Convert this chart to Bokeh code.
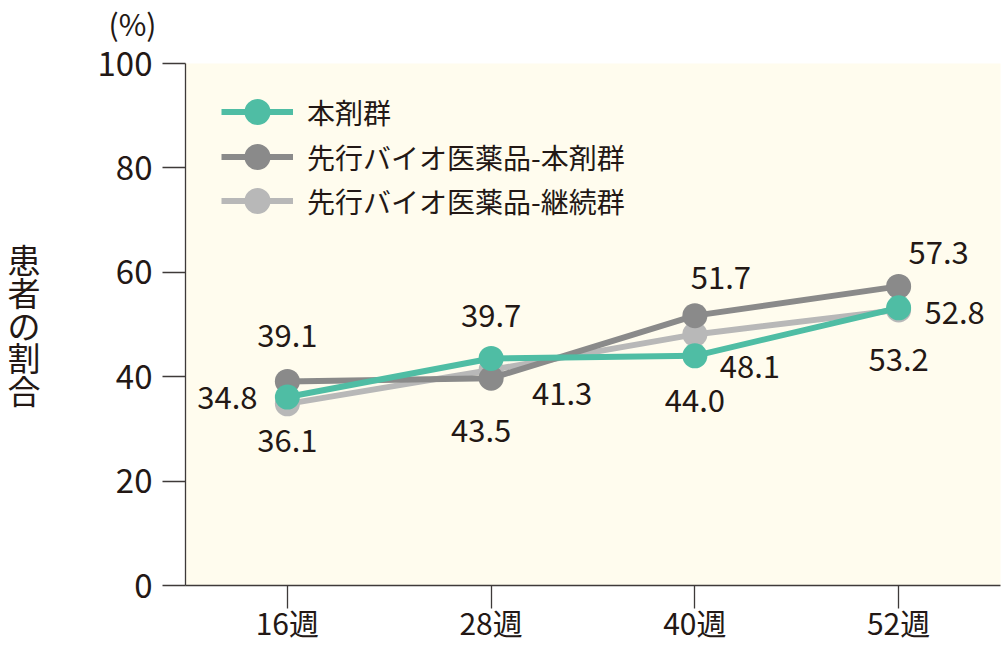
from bokeh.plotting import figure
from bokeh.models import (ColumnDataSource, FactorRange, Range1d, Legend, LegendItem,
                          LabelSet, FixedTicker, Title)
from bokeh.core.properties import value
from bokeh.embed import file_html
from bokeh.resources import INLINE

# ---- data ----
weeks = ["16週", "28週", "40週", "52週"]
hon = [36.1, 43.5, 44.0, 53.2]                 # 本剤群
senko_hon = [39.1, 39.7, 51.7, 57.3]           # 先行バイオ医薬品-本剤群
senko_keizoku = [34.8, 41.3, 48.1, 52.8]       # 先行バイオ医薬品-継続群
series_names = ["本剤群", "先行バイオ医薬品-本剤群", "先行バイオ医薬品-継続群"]
y_ticks = [0, 20, 40, 60, 80, 100]
y_title = "患者の割合"
unit = "(%)"

# ---- styling ----
FONT = "Noto Sans CJK JP"
TXT = "#231815"
AX = "#3e3a39"
colors = ["#4fbda4", "#8a8a8a", "#b8b8b8"]
# label offsets in screen pixels (styling only)
dx = [[0, -10, 0, 0], [0, 0, 26, 40], [-60, 71, 55, 56]]
dy = [[-43, -72, -45, -52], [46, 63, 38, 34], [6, -24, -32, -3]]
legend_rows = [441, 396, 352]  # legend bottoms, px above frame bottom

p = figure(width=1004, height=646, title=None,
           x_range=FactorRange(*weeks, range_padding=0),
           y_range=Range1d(0, 100),
           output_backend="svg", toolbar_location=None,
           min_border_left=185, min_border_right=4,
           min_border_top=63, min_border_bottom=61)
p.background_fill_color = "#fffcee"
p.border_fill_color = "white"
p.outline_line_color = None
p.xgrid.grid_line_color = None
p.ygrid.grid_line_color = None

# spacer title next to the frame, then the unit title above it
p.add_layout(Title(text=" ", text_font_size="1px", standoff=14), "above")
p.add_layout(Title(text=unit, align="left", offset=-77, standoff=0,
                   vertical_align="top", text_font=FONT, text_font_size="30px",
                   text_font_style="normal", text_color=TXT), "above")

for ax in (p.xaxis, p.yaxis):
    ax.axis_line_color = AX
    ax.axis_line_width = 1.3
    ax.major_tick_line_color = AX
    ax.major_tick_line_width = 1.3
    ax.major_tick_out = 23
    ax.major_tick_in = 0
    ax.minor_tick_line_color = None
    ax.major_label_text_font = FONT
    ax.major_label_text_color = TXT

p.yaxis.ticker = FixedTicker(ticks=y_ticks)
p.yaxis.major_label_text_font_size = "33px"
p.yaxis.major_label_standoff = 10
p.yaxis.axis_label = "\n".join(y_title)
p.yaxis.axis_label_orientation = "horizontal"
p.yaxis.axis_label_text_font = FONT
p.yaxis.axis_label_text_font_size = "33px"
p.yaxis.axis_label_text_font_style = "normal"
p.yaxis.axis_label_text_color = TXT
p.yaxis.axis_label_text_line_height = 0.68
p.yaxis.axis_label_standoff = 54

p.xaxis.major_label_text_font_size = "30px"
p.xaxis.major_label_standoff = -9

all_series = [hon, senko_hon, senko_keizoku]
items = {}
for i in reversed(range(3)):
    src = ColumnDataSource(dict(x=weeks, y=all_series[i]))
    lr = p.line(x="x", y="y", source=src, line_color=colors[i], line_width=6)
    sr = p.scatter(x="x", y="y", source=src, size=25, fill_color=colors[i],
                   line_color=None)
    items[i] = [lr, sr]

for i in range(3):
    legend = Legend(items=[LegendItem(label=series_names[i], renderers=items[i])],
                    location=(36, legend_rows[i]), margin=0, padding=0, spacing=0,
                    glyph_width=72, glyph_height=65, label_standoff=14,
                    label_text_font=FONT, label_text_font_size="28px",
                    label_text_color=TXT, background_fill_alpha=0,
                    border_line_color=None)
    p.add_layout(legend)

for i, vals in enumerate(all_series):
    lsrc = ColumnDataSource(dict(x=weeks, y=vals, t=[f"{v:.1f}" for v in vals],
                                 dx=dx[i], dy=dy[i]))
    p.add_layout(LabelSet(x="x", y="y", text="t", source=lsrc,
                          x_offset="dx", y_offset="dy",
                          text_font=value(FONT), text_font_size="31px",
                          text_color=TXT, text_align="center",
                          text_baseline="middle"))

open("out.html", "w").write(file_html(p, INLINE))
